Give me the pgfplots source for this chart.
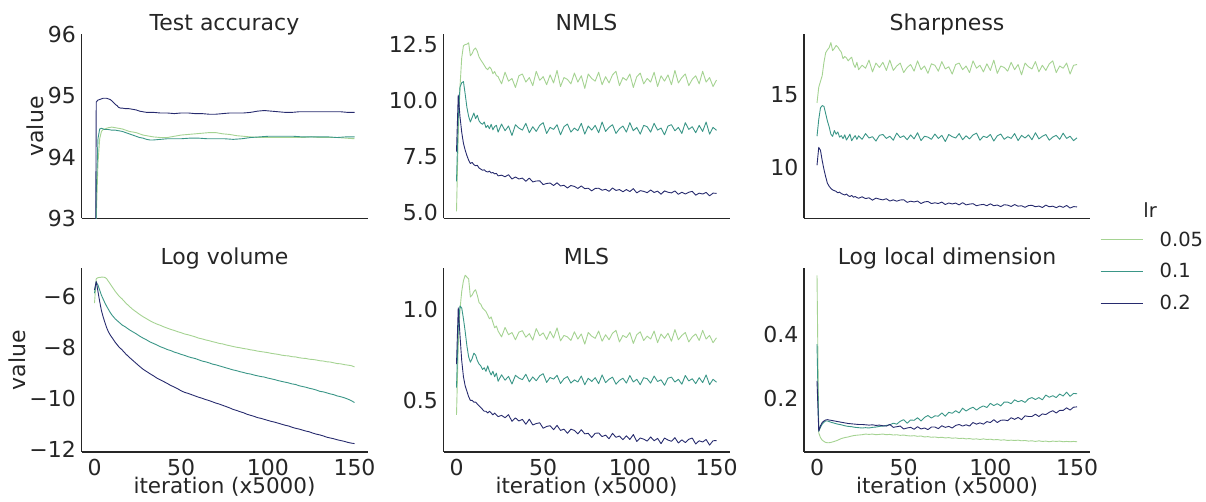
\documentclass[border=0pt]{standalone}
\usepackage{fontspec}
\setmainfont{DejaVu Sans}
\usepackage{pgfplots}
\pgfplotsset{compat=1.18}
\definecolor{cA}{RGB}{165,211,146}
\definecolor{cB}{RGB}{58,150,135}
\definecolor{cC}{RGB}{39,43,110}
\definecolor{txt}{RGB}{38,38,38}
\newcommand\ff{\fontsize{22bp}{26.4bp}\selectfont}
\newcommand\fx{\fontsize{21.5bp}{25.8bp}\selectfont}
\newcommand\fl{\fontsize{19.5bp}{23.4bp}\selectfont}
\pgfplotsset{
 panel/.style={
  anchor=south west,
  scale only axis, width=286bp, height=184bp,
  xmin=-7.5, xmax=157.5,
  axis x line*=bottom, axis y line*=left,
  axis line style={draw=txt, line width=1.2bp},
  major tick length=0pt,
  tick style={draw=none},
  tick label style={font=\ff, text=txt, inner sep=0pt},
  xticklabel style={yshift=-7bp},
  yticklabel style={xshift=-5.5bp},
  label style={font=\ff, text=txt},
  xlabel style={font=\fx, inner sep=0pt, yshift=-1.5bp},
  title style={font=\ff, text=txt, at={(0.5,1)}, anchor=base, yshift=-2.1bp},
  every axis plot/.append style={line width=0.9bp, line join=round, mark=none},
 },
 bottomrow/.style={xtick={0,50,100,150}, xticklabels={0,50,100,150}, xlabel={iteration (x5000)}},
 toprow/.style={xtick=\empty},
}
\begin{document}
\begin{tikzpicture}[x=1bp,y=1bp]
\path[use as bounding box] (0,0) rectangle (1206,502);

% ---------------- Test accuracy
\begin{axis}[panel, toprow, at={(81.5bp,283.5bp)}, title={Test accuracy}, ylabel={value},
  ymin=93, ymax=96, ytick={93,94,95,96}, yticklabels={93,94,95,96}]
\addplot[cA] coordinates {(0,85)(1,93.0)(2,93.9)(3,94.3)(4,94.42)(5,94.45)(6,94.46)(8,94.48)(10,94.49)(12,94.48)(14,94.47)(16,94.46)(18,94.44)(20,94.42)(22,94.41)(24,94.40)(26,94.38)(28,94.36)(30,94.35)(34,94.33)(38,94.32)(42,94.32)(46,94.34)(50,94.36)(54,94.37)(58,94.38)(62,94.39)(66,94.40)(70,94.40)(74,94.38)(78,94.37)(82,94.35)(86,94.34)(90,94.33)(95,94.32)(100,94.32)(105,94.32)(110,94.32)(115,94.32)(120,94.32)(125,94.33)(130,94.32)(135,94.32)(140,94.32)(145,94.31)(150,94.30)};
\addplot[cB] coordinates {(0,88)(1,93.4)(2,94.3)(3,94.46)(4,94.47)(5,94.46)(6,94.45)(8,94.45)(10,94.44)(12,94.44)(14,94.43)(16,94.42)(18,94.40)(20,94.38)(22,94.36)(24,94.34)(26,94.32)(28,94.31)(30,94.29)(32,94.28)(34,94.28)(38,94.29)(42,94.30)(46,94.30)(50,94.30)(55,94.31)(60,94.31)(65,94.30)(70,94.30)(75,94.30)(80,94.29)(85,94.30)(90,94.32)(95,94.33)(100,94.34)(105,94.34)(110,94.34)(115,94.34)(120,94.33)(125,94.33)(130,94.33)(135,94.33)(140,94.32)(145,94.33)(150,94.33)};
\addplot[cC] coordinates {(0,88)(1,94.9)(2,94.93)(3,94.94)(4,94.95)(5,94.96)(6,94.96)(7,94.96)(8,94.95)(9,94.94)(10,94.92)(11,94.89)(12,94.86)(13,94.84)(14,94.81)(15,94.80)(16,94.80)(18,94.79)(20,94.79)(22,94.78)(24,94.77)(26,94.75)(28,94.74)(30,94.73)(34,94.73)(38,94.72)(42,94.72)(46,94.71)(50,94.72)(54,94.72)(58,94.71)(62,94.71)(66,94.70)(70,94.70)(74,94.71)(78,94.72)(82,94.72)(86,94.72)(90,94.73)(94,94.75)(98,94.76)(102,94.75)(106,94.74)(110,94.73)(114,94.73)(118,94.74)(122,94.74)(126,94.74)(130,94.74)(134,94.74)(138,94.74)(142,94.74)(146,94.73)(150,94.73)};
\end{axis}

% ---------------- NMLS
\begin{axis}[panel, toprow, at={(443.5bp,283.5bp)}, title={NMLS},
  ymin=4.75, ymax=12.95, ytick={5,7.5,10,12.5}, yticklabels={5.0,7.5,10.0,12.5}]
\addplot[cA] coordinates {(0,5.07)(1,8.5)(2,10.6)(3,11.9)(4,12.45)(5,12.5)(6,12.52)(7,12.58)(8,12.0)(9,12.1)(10,12.28)(11,12.35)(12,12.2)(13,11.95)(14,11.82)(15,11.7)(16,11.58)(17,11.45)(18,11.38)(19,11.5)(20,11.42)(21,11.2)(22,11.3)(23,11.12)
(24,11.07)(26,10.75)(28,11.27)(30,10.87)(32,10.99)(34,10.59)(36,11.11)(38,11.19)(40,10.83)(42,11.03)(44,10.67)(46,11.31)(48,10.91)(50,11.07)(52,10.71)(54,11.15)(56,10.79)(58,11.35)(60,10.63)(62,11.03)(64,10.95)(66,10.75)(68,11.23)(70,10.83)(72,11.11)(74,10.55)(76,11.19)(78,10.99)(80,10.87)(82,11.27)(84,10.71)(86,11.07)(88,10.79)(90,11.15)(92,11.31)(94,10.67)(96,11.03)(98,10.91)(100,11.19)(102,10.59)(104,11.07)(106,11.23)(108,10.75)(110,10.99)(112,10.83)(114,11.27)(116,10.63)(118,11.11)(120,10.87)(122,11.15)(124,10.71)(126,11.35)(128,10.79)(130,11.03)(132,11.19)(134,10.67)(136,10.95)(138,11.11)(140,10.75)(142,11.31)(144,10.83)(146,11.03)(148,10.63)(150,10.92)};
\addplot[cB] coordinates {(0,6.4)(1,9.2)(2,10.6)(3,10.8)(4,10.85)(5,10.3)(6,9.7)(7,9.3)(8,9.05)(9,9.25)(10,9.45)(11,9.2)(12,9.35)(13,9.1)(14,9.0)(15,8.95)(16,9.05)(17,8.8)(18,8.9)(19,8.75)(20,8.95)(21,8.7)(22,8.85)(23,8.9)
(24,8.60)(26,8.96)(28,8.66)(30,8.87)(32,8.45)(34,8.93)(36,8.78)(38,8.69)(40,8.99)(42,8.57)(44,8.84)(46,8.63)(48,8.90)(50,9.02)(52,8.54)(54,8.81)(56,8.72)(58,8.93)(60,8.48)(62,8.84)(64,8.96)(66,8.60)(68,8.78)(70,8.66)(72,8.99)(74,8.51)(76,8.87)(78,8.69)(80,8.90)(82,8.57)(84,9.05)(86,8.63)(88,8.81)(90,8.93)(92,8.54)(94,8.75)(96,8.87)(98,8.60)(100,9.02)(102,8.66)(104,8.81)(106,8.51)(108,8.90)(110,8.84)(112,8.60)(114,8.99)(116,8.69)(118,8.78)(120,8.48)(122,8.87)(124,8.93)(126,8.66)(128,8.81)(130,8.54)(132,9.02)(134,8.72)(136,8.84)(138,8.57)(140,8.90)(142,8.63)(144,9.05)(146,8.51)(148,8.81)(150,8.68)};
\addplot[cC] coordinates {(0,7.73)(1,10.25)(2,9.3)(3,8.6)(4,8.1)(5,7.8)(6,7.55)(7,7.35)(8,7.2)(9,7.25)(10,7.15)(11,7.1)(12,7.12)(13,7.0)(14,6.95)(15,6.9)(16,6.92)(17,6.85)(18,6.82)(19,6.86)(20,6.78)(21,6.8)(22,6.74)(23,6.76)
(24,6.65)(26,6.68)(28,6.61)(30,6.70)(32,6.51)(34,6.60)(36,6.51)(38,6.55)(40,6.41)(42,6.55)(44,6.38)(46,6.42)(48,6.43)(50,6.26)(52,6.31)(54,6.33)(56,6.22)(58,6.34)(60,6.20)(62,6.23)(64,6.11)(66,6.22)(68,6.18)(70,6.09)(72,6.20)(74,6.08)(76,6.10)(78,5.98)(80,6.09)(82,6.10)(84,6.01)(86,6.05)(88,5.96)(90,6.11)(92,6.00)(94,6.04)(96,5.94)(98,6.04)(100,5.95)(102,6.08)(104,5.89)(106,5.99)(108,5.96)(110,5.90)(112,6.02)(114,5.91)(116,5.97)(118,5.83)(120,5.98)(122,5.92)(124,5.89)(126,5.98)(128,5.83)(130,5.92)(132,5.84)(134,5.92)(136,5.96)(138,5.79)(140,5.88)(142,5.84)(144,5.91)(146,5.76)(148,5.88)(150,5.87)};
\end{axis}

% ---------------- Sharpness
\begin{axis}[panel, toprow, at={(804bp,283.5bp)}, title={Sharpness},
  ymin=6.55, ymax=19.1, ytick={10,15}, yticklabels={10,15}]
\addplot[cA] coordinates {(0,14.43)(1,15.5)(2,15.9)(3,16.3)(4,17.2)(5,17.85)(6,18.05)(7,18.2)(8,18.55)(9,18.0)(10,18.15)(11,18.35)(12,18.25)(13,18.05)(14,17.9)(15,17.45)(16,17.6)(17,17.5)(18,17.3)(19,17.45)(20,17.55)(21,17.1)(22,16.85)(23,17.2)
(24,16.70)(26,17.00)(28,16.80)(30,17.35)(32,16.55)(34,17.15)(36,16.85)(38,17.20)(40,16.65)(42,17.35)(44,16.65)(46,16.95)(48,17.15)(50,16.50)(52,16.85)(54,17.05)(56,16.60)(58,17.30)(60,16.70)(62,16.95)(64,16.45)(66,17.10)(68,17.00)(70,16.60)(72,17.25)(74,16.75)(76,16.90)(78,16.40)(80,17.05)(82,17.15)(84,16.70)(86,16.95)(88,16.50)(90,17.30)(92,16.80)(94,17.00)(96,16.55)(98,17.10)(100,16.65)(102,17.35)(104,16.45)(106,16.95)(108,16.85)(110,16.60)(112,17.20)(114,16.70)(116,17.05)(118,16.35)(120,17.15)(122,16.90)(124,16.75)(126,17.25)(128,16.55)(130,17.00)(132,16.65)(134,17.10)(136,17.30)(138,16.50)(140,16.95)(142,16.80)(144,17.15)(146,16.40)(148,17.00)(150,17.05)};
\addplot[cB] coordinates {(0,12.16)(1,13.3)(2,14.1)(3,14.25)(4,14.2)(5,13.7)(6,13.2)(7,12.8)(8,12.3)(9,12.15)(10,12.55)(11,12.3)(12,12.45)(13,12.1)(14,12.2)(15,12.0)(16,12.25)(17,11.9)(18,12.1)(19,12.3)(20,11.85)(21,12.05)(22,12.2)(23,11.95)
(24,12.19)(26,11.95)(28,12.34)(30,12.04)(32,12.13)(34,11.83)(36,12.22)(38,12.28)(40,12.01)(42,12.16)(44,11.89)(46,12.37)(48,12.07)(50,12.19)(52,11.92)(54,12.25)(56,11.98)(58,12.40)(60,11.86)(62,12.16)(64,12.10)(66,11.95)(68,12.31)(70,12.01)(72,12.22)(74,11.80)(76,12.28)(78,12.13)(80,12.04)(82,12.34)(84,11.92)(86,12.19)(88,11.98)(90,12.25)(92,12.37)(94,11.89)(96,12.16)(98,12.07)(100,12.28)(102,11.83)(104,12.19)(106,12.31)(108,11.95)(110,12.13)(112,12.01)(114,12.34)(116,11.86)(118,12.22)(120,12.04)(122,12.25)(124,11.92)(126,12.40)(128,11.98)(130,12.16)(132,12.28)(134,11.89)(136,12.10)(138,12.22)(140,11.95)(142,12.37)(144,12.01)(146,12.16)(148,11.86)(150,12.05)};
\addplot[cC] coordinates {(0,10.18)(1,11.4)(2,11.2)(3,10.5)(4,9.9)(5,9.4)(6,8.95)(7,8.75)(8,8.6)(9,8.5)(10,8.45)(11,8.4)(12,8.3)(13,8.35)(14,8.25)(15,8.2)(16,8.15)(17,8.22)(18,8.1)(19,8.05)(20,8.12)(21,8.0)(22,8.05)(23,7.98)
(24,7.93)(26,8.03)(28,7.91)(30,7.96)(32,7.80)(34,7.94)(36,7.87)(38,7.82)(40,7.90)(42,7.74)(44,7.82)(46,7.73)(48,7.81)(50,7.83)(52,7.65)(54,7.73)(56,7.68)(58,7.74)(60,7.57)(62,7.68)(64,7.71)(66,7.57)(68,7.62)(70,7.57)(72,7.67)(74,7.50)(76,7.61)(78,7.54)(80,7.60)(82,7.48)(84,7.63)(86,7.48)(88,7.53)(90,7.56)(92,7.42)(94,7.48)(96,7.51)(98,7.42)(100,7.55)(102,7.42)(104,7.47)(106,7.36)(108,7.49)(110,7.46)(112,7.37)(114,7.50)(116,7.39)(118,7.42)(120,7.31)(122,7.43)(124,7.45)(126,7.35)(128,7.40)(130,7.30)(132,7.46)(134,7.35)(136,7.39)(138,7.29)(140,7.40)(142,7.31)(144,7.44)(146,7.26)(148,7.36)(150,7.34)};
\end{axis}

% ---------------- Log volume
\begin{axis}[panel, bottomrow, at={(81.5bp,50bp)}, title={Log volume}, ylabel={value},
  ymin=-12.1, ymax=-4.88, ytick={-12,-10,-8,-6}, yticklabels={−12,−10,−8,−6}]
\addplot[cA] coordinates {(0,-6.26)(1,-5.3)(2,-5.26)(3,-5.25)(4,-5.24)(5,-5.24)(6,-5.25)(7,-5.3)(8,-5.4)(9,-5.5)(10,-5.6)(12,-5.8)(14,-5.97)(16,-6.1)(18,-6.25)(20,-6.38)(22,-6.5)(24,-6.6)(26,-6.7)(28,-6.79)(30,-6.87)(32,-6.95)(34,-7.02)(36,-7.08)(38,-7.13)(40,-7.19)(42,-7.24)(44,-7.29)(46,-7.33)(48,-7.38)(50,-7.42)(52,-7.47)(54,-7.5)(56,-7.54)(58,-7.58)(60,-7.63)(62,-7.66)(64,-7.7)(66,-7.73)(68,-7.77)(70,-7.8)(72,-7.84)(74,-7.86)(76,-7.9)(78,-7.93)(80,-7.96)(82,-7.99)(84,-8.01)(86,-8.04)(88,-8.06)(90,-8.09)(92,-8.11)(94,-8.14)(96,-8.16)(98,-8.18)(100,-8.2)(102,-8.23)(104,-8.25)(106,-8.27)(108,-8.3)(110,-8.32)(112,-8.33)(114,-8.36)(116,-8.37)(118,-8.4)(120,-8.42)(122,-8.43)(124,-8.46)(126,-8.47)(128,-8.49)(130,-8.52)(132,-8.53)(134,-8.56)(136,-8.57)(138,-8.6)(140,-8.63)(142,-8.64)(144,-8.67)(146,-8.69)(148,-8.71)(150,-8.76)};
\addplot[cB] coordinates {(0,-5.87)(1,-5.43)(2,-5.55)(3,-5.75)(4,-5.95)(5,-6.1)(6,-6.25)(7,-6.38)(8,-6.5)(9,-6.62)(10,-6.72)(12,-6.88)(14,-7.0)(16,-7.12)(18,-7.2)(20,-7.3)(22,-7.38)(24,-7.46)(26,-7.55)(28,-7.63)(30,-7.7)(32,-7.78)(34,-7.84)(36,-7.9)(38,-7.97)(40,-8.02)(42,-8.08)(44,-8.12)(46,-8.18)(48,-8.22)(50,-8.27)(52,-8.31)(54,-8.36)(56,-8.4)(58,-8.43)(60,-8.48)(62,-8.53)(64,-8.56)(66,-8.6)(68,-8.65)(70,-8.68)(72,-8.72)(74,-8.76)(76,-8.8)(78,-8.84)(80,-8.88)(82,-8.91)(84,-8.95)(86,-8.98)(88,-9.02)(90,-9.04)(92,-9.08)(94,-9.11)(96,-9.14)(98,-9.16)(100,-9.2)(102,-9.23)(104,-9.26)(106,-9.3)(108,-9.33)(110,-9.36)(112,-9.39)(114,-9.43)(116,-9.45)(118,-9.5)(120,-9.53)(122,-9.56)(124,-9.6)(126,-9.63)(128,-9.67)(130,-9.72)(132,-9.74)(134,-9.78)(136,-9.82)(138,-9.85)(140,-9.9)(142,-9.93)(144,-9.97)(146,-10.02)(148,-10.08)(150,-10.16)};
\addplot[cC] coordinates {(0,-5.74)(1,-5.41)(2,-5.8)(3,-6.2)(4,-6.55)(5,-6.8)(6,-7.02)(7,-7.22)(8,-7.38)(9,-7.5)(10,-7.6)(12,-7.8)(14,-7.97)(16,-8.1)(18,-8.25)(20,-8.38)(22,-8.5)(24,-8.62)(26,-8.74)(28,-8.85)(30,-8.94)(32,-9.03)(34,-9.11)(36,-9.2)(38,-9.27)(40,-9.34)(42,-9.41)(44,-9.49)(46,-9.55)(48,-9.62)(50,-9.7)(52,-9.76)(54,-9.8)(56,-9.85)(58,-9.9)(60,-9.95)(62,-9.99)(64,-10.04)(66,-10.08)(68,-10.13)(70,-10.18)(72,-10.22)(74,-10.27)(76,-10.32)(78,-10.37)(80,-10.43)(82,-10.47)(84,-10.52)(86,-10.56)(88,-10.62)(90,-10.66)(92,-10.7)(94,-10.75)(96,-10.78)(98,-10.82)(100,-10.86)(102,-10.9)(104,-10.93)(106,-10.97)(108,-11.01)(110,-11.05)(112,-11.08)(114,-11.13)(116,-11.17)(118,-11.2)(120,-11.24)(122,-11.28)(124,-11.31)(126,-11.36)(128,-11.4)(130,-11.43)(132,-11.47)(134,-11.52)(136,-11.55)(138,-11.58)(140,-11.62)(142,-11.65)(144,-11.68)(146,-11.72)(148,-11.75)(150,-11.77)};
\end{axis}

% ---------------- MLS
\begin{axis}[panel, bottomrow, at={(443.5bp,50bp)}, title={MLS},
  ymin=0.215, ymax=1.23, ytick={0.5,1.0}, yticklabels={0.5,1.0}]
\addplot[cA] coordinates {(0,0.42)(1,0.8)(2,1.0)(3,1.1)(4,1.16)(5,1.19)(6,1.18)(7,1.17)(8,1.07)(9,1.08)(10,1.1)(11,1.11)(12,1.08)(13,1.04)(14,1.03)(15,1.01)(16,1.0)(17,0.99)(18,0.97)(19,0.95)(20,0.96)(21,0.93)(22,0.9)(23,0.91)
(24,0.882)(26,0.850)(28,0.902)(30,0.862)(32,0.874)(34,0.834)(36,0.876)(38,0.884)(40,0.848)(42,0.868)(44,0.832)(46,0.896)(48,0.856)(50,0.872)(52,0.836)(54,0.880)(56,0.844)(58,0.900)(60,0.828)(62,0.858)(64,0.850)(66,0.830)(68,0.878)(70,0.838)(72,0.866)(74,0.810)(76,0.874)(78,0.854)(80,0.842)(82,0.882)(84,0.826)(86,0.862)(88,0.834)(90,0.870)(92,0.886)(94,0.822)(96,0.858)(98,0.846)(100,0.874)(102,0.814)(104,0.862)(106,0.878)(108,0.830)(110,0.854)(112,0.838)(114,0.882)(116,0.818)(118,0.866)(120,0.842)(122,0.870)(124,0.826)(126,0.890)(128,0.834)(130,0.858)(132,0.874)(134,0.822)(136,0.850)(138,0.866)(140,0.830)(142,0.886)(144,0.838)(146,0.858)(148,0.818)(150,0.845)};
\addplot[cB] coordinates {(0,0.57)(1,0.9)(2,1.02)(3,1.01)(4,0.95)(5,0.88)(6,0.8)(7,0.74)(8,0.71)(9,0.73)(10,0.76)(11,0.75)(12,0.72)(13,0.7)(14,0.69)(15,0.67)(16,0.68)(17,0.66)(18,0.69)(19,0.66)(20,0.64)(21,0.66)(22,0.63)(23,0.65)
(24,0.605)(26,0.641)(28,0.611)(30,0.632)(32,0.590)(34,0.638)(36,0.623)(38,0.614)(40,0.644)(42,0.602)(44,0.629)(46,0.608)(48,0.635)(50,0.647)(52,0.599)(54,0.626)(56,0.617)(58,0.638)(60,0.593)(62,0.619)(64,0.631)(66,0.595)(68,0.613)(70,0.601)(72,0.634)(74,0.586)(76,0.622)(78,0.604)(80,0.625)(82,0.592)(84,0.640)(86,0.598)(88,0.616)(90,0.628)(92,0.589)(94,0.610)(96,0.622)(98,0.595)(100,0.637)(102,0.601)(104,0.616)(106,0.586)(108,0.625)(110,0.619)(112,0.595)(114,0.634)(116,0.604)(118,0.613)(120,0.583)(122,0.622)(124,0.628)(126,0.601)(128,0.616)(130,0.589)(132,0.637)(134,0.607)(136,0.619)(138,0.592)(140,0.625)(142,0.598)(144,0.640)(146,0.586)(148,0.616)(150,0.600)};
\addplot[cC] coordinates {(0,0.70)(1,1.01)(2,0.86)(3,0.72)(4,0.63)(5,0.58)(6,0.55)(7,0.52)(8,0.5)(9,0.5)(10,0.49)(11,0.49)(12,0.48)(13,0.47)(14,0.46)(15,0.45)(16,0.44)(17,0.44)(18,0.43)(19,0.44)(20,0.43)(21,0.42)(22,0.43)(23,0.42)
(24,0.410)(26,0.417)(28,0.404)(30,0.421)(32,0.384)(34,0.403)(36,0.386)(38,0.395)(40,0.368)(42,0.396)(44,0.364)(46,0.372)(48,0.376)(50,0.346)(52,0.356)(54,0.360)(56,0.338)(58,0.362)(60,0.334)(62,0.341)(64,0.318)(66,0.341)(68,0.334)(70,0.315)(72,0.338)(74,0.315)(76,0.318)(78,0.295)(80,0.318)(82,0.320)(84,0.300)(86,0.308)(88,0.288)(90,0.318)(92,0.296)(94,0.303)(96,0.283)(98,0.304)(100,0.284)(102,0.311)(104,0.273)(106,0.292)(108,0.286)(110,0.275)(112,0.298)(114,0.277)(116,0.290)(118,0.261)(120,0.292)(122,0.281)(124,0.274)(126,0.294)(128,0.265)(130,0.282)(132,0.267)(134,0.285)(136,0.292)(138,0.259)(140,0.277)(142,0.270)(144,0.284)(146,0.253)(148,0.277)(150,0.278)};
\end{axis}

% ---------------- Log local dimension
\begin{axis}[panel, bottomrow, at={(804bp,50bp)}, title={Log local dimension}, clip mode=individual,
  ymin=0.033, ymax=0.608, ytick={0.2,0.4}, yticklabels={0.2,0.4},
  legend cell align=left,
  legend image code/.code={\draw[#1] (0bp,0bp) -- (42bp,0bp);},
  legend style={at={(1.035,0.981)}, anchor=west, draw=none, fill=none, inner sep=0pt,
    font=\fl, text=txt, row sep=16bp, column sep=16.6bp, nodes={inner sep=0pt}}]
\addplot[cA] coordinates {(0,0.585)(1,0.093)(2,0.078)(3,0.07)(4,0.066)(5,0.063)(6,0.062)(7,0.062)(8,0.063)(10,0.066)(12,0.07)(14,0.075)(16,0.078)(18,0.08)(20,0.083)(22,0.085)(24,0.086)(26,0.087)(28,0.089)(30,0.088)(32,0.089)(34,0.087)(36,0.088)(38,0.089)(40,0.087)(42,0.088)(44,0.086)(46,0.087)(48,0.085)(50,0.086)(52,0.084)(54,0.083)(56,0.084)(58,0.082)(60,0.083)(62,0.080)(64,0.081)(66,0.079)(68,0.080)(70,0.078)(72,0.079)(74,0.077)(76,0.078)(78,0.076)(80,0.077)(82,0.075)(84,0.076)(86,0.074)(88,0.075)(90,0.073)(92,0.074)(94,0.072)(96,0.074)(98,0.072)(100,0.073)(102,0.071)(104,0.072)(106,0.070)(108,0.071)(110,0.069)(112,0.070)(114,0.069)(116,0.070)(118,0.068)(120,0.069)(122,0.067)(124,0.068)(126,0.066)(128,0.068)(130,0.066)(132,0.067)(134,0.065)(136,0.067)(138,0.066)(140,0.067)(142,0.065)(144,0.066)(146,0.065)(148,0.066)(150,0.065)};
\addlegendentry{0.05}
\addplot[cB] coordinates {(0,0.37)(1,0.098)(2,0.11)(3,0.12)(4,0.126)(5,0.13)(6,0.13)(7,0.128)(8,0.126)(10,0.123)(12,0.12)(14,0.118)(16,0.115)(18,0.113)(20,0.112)(22,0.11)(24,0.109)(26,0.108)(28,0.109)(30,0.108)(32,0.11)(34,0.111)(36,0.113)(38,0.114)(40,0.116)(42,0.118)(44,0.123)(46,0.120)(48,0.129)(50,0.134)(52,0.123)(54,0.133)(56,0.132)(58,0.140)(60,0.130)(62,0.141)(64,0.147)(66,0.139)(68,0.146)(70,0.145)(72,0.155)(74,0.145)(76,0.157)(78,0.154)(80,0.162)(82,0.155)(84,0.170)(86,0.161)(88,0.168)(90,0.173)(92,0.164)(94,0.172)(96,0.177)(98,0.172)(100,0.185)(102,0.178)(104,0.184)(106,0.177)(108,0.189)(110,0.189)(112,0.184)(114,0.196)(116,0.190)(118,0.194)(120,0.188)(122,0.199)(124,0.203)(126,0.197)(128,0.203)(130,0.196)(132,0.211)(134,0.204)(136,0.209)(138,0.203)(140,0.214)(142,0.208)(144,0.220)(146,0.207)(148,0.216)(150,0.215)};
\addlegendentry{0.1}
\addplot[cC] coordinates {(0,0.255)(1,0.098)(2,0.115)(3,0.125)(4,0.13)(5,0.133)(6,0.134)(7,0.133)(8,0.132)(10,0.13)(12,0.128)(14,0.126)(16,0.124)(18,0.122)(20,0.121)(22,0.12)(24,0.119)(26,0.119)(28,0.118)(30,0.117)(32,0.118)(34,0.116)(36,0.117)(38,0.115)(40,0.114)(42,0.119)(44,0.110)(46,0.112)(48,0.114)(50,0.105)(52,0.108)(54,0.110)(56,0.104)(58,0.112)(60,0.105)(62,0.108)(64,0.103)(66,0.111)(68,0.111)(70,0.106)(72,0.115)(74,0.110)(76,0.113)(78,0.108)(80,0.116)(82,0.119)(84,0.114)(86,0.118)(88,0.114)(90,0.125)(92,0.120)(94,0.124)(96,0.120)(98,0.128)(100,0.125)(102,0.134)(104,0.125)(106,0.132)(108,0.133)(110,0.131)(112,0.140)(114,0.135)(116,0.141)(118,0.134)(120,0.146)(122,0.144)(124,0.144)(126,0.151)(128,0.144)(130,0.152)(132,0.150)(134,0.157)(136,0.162)(138,0.155)(140,0.163)(142,0.163)(144,0.171)(146,0.164)(148,0.173)(150,0.174)};
\addlegendentry{0.2}
\node[anchor=base, font=\fl, text=txt, inner sep=0pt] at (rel axis cs:1.21,1.275) {lr};
\end{axis}
\end{tikzpicture}
\end{document}
